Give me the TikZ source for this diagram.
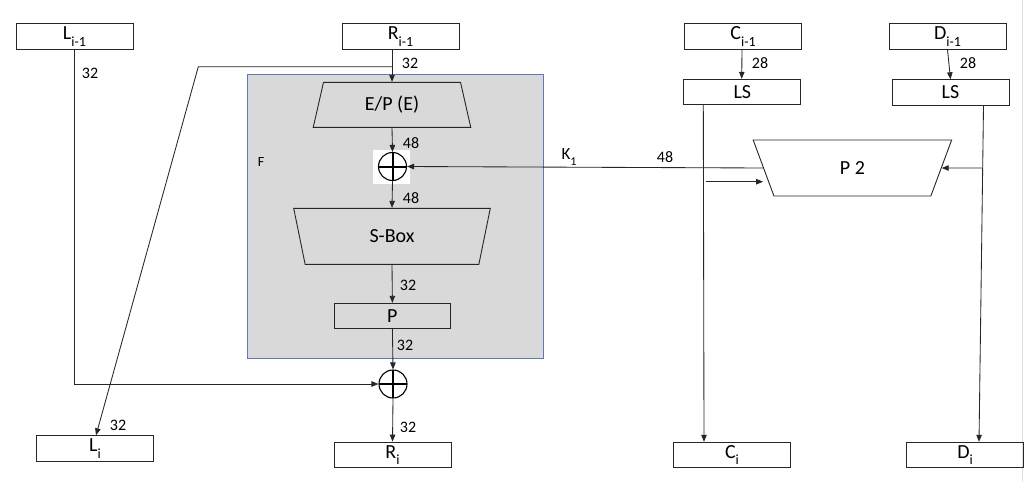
\documentclass[tikz,border=0pt]{standalone}
\usepackage{fontspec}
\setmainfont{Carlito}
\usetikzlibrary{arrows.meta,shapes.geometric}
\definecolor{fgray}{HTML}{D9D9D9}
\definecolor{fblue}{HTML}{5B7BB8}
\newcommand{\sbs}[1]{\raisebox{-0.32em}{\fontsize{14}{15}\selectfont #1}}
\begin{document}
\begin{tikzpicture}[x=1pt,y=-1pt,
  box/.style={draw=black!85, line width=0.9pt, minimum width=117pt, minimum height=25.5pt, inner sep=0pt, font=\fontsize{20}{21}\selectfont},
  num/.style={font=\fontsize{16}{17}\selectfont, inner sep=0pt},
  arr/.style={-{Triangle[length=7pt,width=5.5pt]}, line width=0.85pt, draw=black!85},
  trap/.style={trapezium, draw=black!85, line width=0.9pt, trapezium stretches=true, inner sep=0pt, font=\fontsize{20}{21}\selectfont},
  xor/.style={circle, draw=black, line width=1.1pt, minimum size=28pt, inner sep=0pt,
    path picture={\draw[line width=2pt] (path picture bounding box.north) -- (path picture bounding box.south)
      (path picture bounding box.west) -- (path picture bounding box.east);}}
]
\useasboundingbox (0,0) rectangle (1024,482);
\fill[white] (0,0) rectangle (1024,482);
\draw[black!12, line width=1pt] (1022.7,0) -- (1022.7,482);

% F region
\node[draw=fblue, fill=fgray, line width=0.8pt, minimum width=296pt, minimum height=284pt, inner sep=0pt] (F) at (395,216) {};
\node[font=\fontsize{14}{15}\selectfont, inner sep=0pt] (Flab) at (261,162) {F};

% top boxes
\node[box] (li1) at (74.5,36.5) {L\sbs{i-1}};
\node[box] (ri1) at (400.5,36.5) {R\sbs{i-1}};
\node[box] (ci1) at (743,36.5) {C\sbs{i-1}};
\node[box] (di1) at (947.5,36.5) {D\sbs{i-1}};
\node[box] (lsc) at (742.3,92) {LS};
\node[box] (lsd) at (950.5,92.5) {LS};

% bottom boxes
\node[box] (li) at (95,448.5) {L\sbs{i}};
\node[box] (ri) at (392.5,454.8) {R\sbs{i}};
\node[box] (ci) at (732,455) {C\sbs{i}};
\node[box] (di) at (965,455) {D\sbs{i}};

% F internals
\node[trap, trapezium angle=76.9, minimum width=158pt, minimum height=45pt] (ep) at (392,104.8) {E/P (E)};
\node[fill=white, minimum width=37pt, minimum height=34pt, inner sep=0pt] (xbg) at (391.5,167) {};
\node[xor] (x1) at (392.5,166.5) {};
\node[trap, shape border rotate=180, trapezium angle=77.3, minimum width=197.4pt, minimum height=56pt] (sb) at (392,236.3) {S-Box};
\node[box, minimum width=116.5pt, minimum height=25pt] (p) at (392.4,315.8) {P};
\node[xor] (x2) at (393,384) {};

% P2
\node[trap, shape border rotate=180, trapezium angle=75.7, minimum width=198.7pt, minimum height=56pt] (p2) at (852.4,168) {P 2};

% left/right data path
\draw[arr] (ep.north |- ri1.south) -- (ep.north);
\node[num] (n1) at (410,63) {32};
\coordinate (br) at (392,66.7);
\coordinate (brl) at (198.3,66.7);
\draw[arr] (br) -- (brl) -- ([xshift=1pt]li.north);
\node[num] (n2) at (118,425) {32};

\draw[arr] (ep.south) -- (x1.north);
\node[num] (n3) at (411,143) {48};
\draw[arr] (x1.south) -- (sb.north);
\node[num] (n4) at (411,198) {48};
\draw[arr] (sb.south) -- (p.north);
\node[num] (n5) at (408,285) {32};
\draw[arr] (p.south) -- (x2.north);
\node[num] (n6) at (405,345) {32};

\coordinate (lc) at (74,384);
\draw[arr] ([xshift=-0.5pt]li1.south) -- (lc) -- (x2.west);
\node[num] (n7) at (90,73) {32};

\draw[arr] (x2.south) -- (ri.north);
\node[num] (n8) at (408,427) {32};

% key schedule
\draw[arr] ([xshift=-1pt]ci1.south) -- ([xshift=-0.6pt]lsc.north);
\node[num] (n9) at (760,63) {28};
\draw[arr] (di1.south) -- (lsd.north);
\node[num] (n10) at (968,63) {28};

\draw[arr] ([xshift=-39pt]lsc.south) -- ([xshift=-28pt]ci.north);
\draw[arr] ([xshift=33pt]lsd.south) -- ([xshift=14pt]di.north);

\coordinate (ca) at (706,181.7);
\draw[arr] (ca) -- (ca -| p2.west);
\coordinate (da) at (982,168);
\draw[arr] (da) -- (p2.east);

\draw[arr] (p2.west) -- (x1.east);
\node[font=\fontsize{17}{18}\selectfont, inner sep=0pt] (k1) at (569,157) {K\raisebox{-0.3em}{\fontsize{12}{13}\selectfont 1}};
\node[num] (n11) at (665,157) {48};
\end{tikzpicture}
\end{document}
